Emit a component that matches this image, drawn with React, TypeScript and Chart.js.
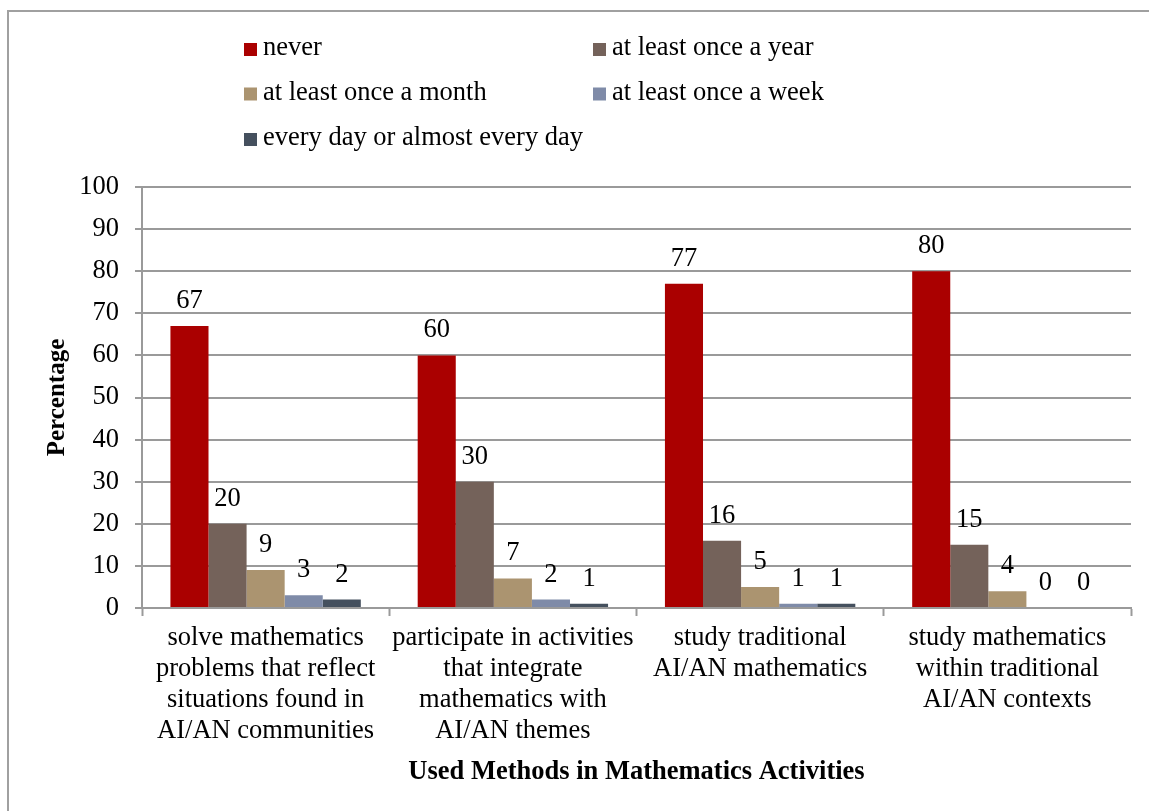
import React, { useEffect, useRef } from "react";
import { Chart, registerables } from "chart.js";

Chart.register(...registerables);

const FONT = "'Liberation Serif', 'Times New Roman', serif";

const categories: string[][] = [
  ["solve mathematics", "problems that reflect", "situations found in", "AI/AN communities"],
  ["participate in activities", "that integrate", "mathematics with", "AI/AN themes"],
  ["study traditional", "AI/AN mathematics"],
  ["study mathematics", "within traditional", "AI/AN contexts"],
];

const seriesNames = [
  "never",
  "at least once a year",
  "at least once a month",
  "at least once a week",
  "every day or almost every day",
];

const seriesColors = ["#AA0000", "#74625A", "#AB9470", "#7F8BA8", "#45505E"];

const never = [67, 60, 77, 80];
const onceYear = [20, 30, 16, 15];
const onceMonth = [9, 7, 5, 4];
const onceWeek = [3, 2, 1, 0];
const everyDay = [2, 1, 1, 0];

const yMin = 0;
const yMax = 100;
const yStep = 10;

const yTitle = "Percentage";
const xTitle = "Used Methods in Mathematics Activities";

const GRID = "#9a9a9a";
const FS = 26.5;

const framePlugin = {
  id: "frame",
  beforeDraw(chart: any) {
    const ctx = chart.ctx;
    ctx.save();
    ctx.fillStyle = "#ffffff";
    ctx.fillRect(0, 0, chart.width, chart.height);
    ctx.strokeStyle = "#a0a0a0";
    ctx.lineWidth = 2;
    ctx.beginPath();
    ctx.moveTo(8, chart.height + 5);
    ctx.lineTo(8, 11);
    ctx.lineTo(chart.width + 5, 11);
    ctx.stroke();
    ctx.restore();
  },
};

const legendPlugin = {
  id: "customLegend",
  afterDraw(chart: any) {
    const ctx = chart.ctx;
    const colX = [244, 593];
    const rowY = [49.5, 94, 139.5];
    ctx.save();
    ctx.font = `${FS}px ${FONT}`;
    ctx.textBaseline = "middle";
    ctx.textAlign = "left";
    chart.data.datasets.forEach((ds: any, i: number) => {
      const col = i % 2;
      const row = Math.floor(i / 2);
      const x = colX[col];
      const y = rowY[row];
      ctx.fillStyle = ds.backgroundColor;
      ctx.fillRect(x, y - 6.5, 13, 13);
      ctx.fillStyle = "#000000";
      ctx.fillText(ds.label, x + 19, y - 1);
    });
    ctx.restore();
  },
};

const valueLabelPlugin = {
  id: "valueLabels",
  afterDatasetsDraw(chart: any) {
    const ctx = chart.ctx;
    ctx.save();
    ctx.font = `${FS}px ${FONT}`;
    ctx.fillStyle = "#000000";
    ctx.textAlign = "center";
    ctx.textBaseline = "middle";
    chart.data.datasets.forEach((ds: any, i: number) => {
      const meta = chart.getDatasetMeta(i);
      meta.data.forEach((el: any, j: number) => {
        ctx.fillText(String(ds.data[j]), el.x, el.y - 25);
      });
    });
    ctx.restore();
  },
};

export default function App() {
  const ref = useRef<HTMLCanvasElement | null>(null);

  useEffect(() => {
    if (!ref.current) return;
    const values = [never, onceYear, onceMonth, onceWeek, everyDay];
    const chart = new Chart(ref.current, {
      type: "bar",
      data: {
        labels: categories,
        datasets: seriesNames.map((name, i) => ({
          label: name,
          data: values[i],
          backgroundColor: seriesColors[i],
          borderWidth: 0,
          categoryPercentage: 0.77,
          barPercentage: 1.0,
        })),
      },
      options: {
        responsive: false,
        animation: false,
        devicePixelRatio: 1,
        layout: { padding: { top: 187, left: 37, right: 18, bottom: 19 } },
        plugins: {
          legend: { display: false },
          tooltip: { enabled: false },
          title: { display: false },
        },
        scales: {
          x: {
            type: "category",
            offset: true,
            grid: {
              offset: true,
              drawOnChartArea: false,
              drawTicks: true,
              tickLength: 8,
              tickColor: GRID,
              tickWidth: 2,
            },
            border: { display: true, color: GRID, width: 2 },
            ticks: {
              color: "#000000",
              font: { family: FONT, size: FS, lineHeight: 1.17 },
              padding: 7,
              maxRotation: 0,
              minRotation: 0,
              autoSkip: false,
            },
            title: {
              display: true,
              text: xTitle,
              color: "#000000",
              font: { family: FONT, size: FS, weight: "bold" },
              padding: { top: 4, bottom: 4 },
            },
            afterFit(scale: any) {
              scale.height = 184;
            },
          },
          y: {
            min: yMin,
            max: yMax,
            ticks: {
              stepSize: yStep,
              color: "#000000",
              font: { family: FONT, size: FS },
              padding: 16,
            },
            grid: {
              color: GRID,
              lineWidth: 2,
              drawTicks: true,
              tickLength: 7,
              tickColor: GRID,
            },
            border: { display: true, color: GRID, width: 2 },
            title: {
              display: true,
              text: yTitle,
              color: "#000000",
              font: { family: FONT, size: 25, weight: "bold" },
              padding: { top: 6, bottom: 4 },
            },
            afterFit(scale: any) {
              scale.width = 105;
            },
          },
        },
      },
      plugins: [framePlugin, legendPlugin, valueLabelPlugin],
    } as any);
    return () => chart.destroy();
  }, []);

  return (
    <div style={{ position: "fixed", left: 0, top: 0, width: 1149, height: 811 }}>
      <canvas ref={ref} width={1149} height={811} style={{ display: "block" }} />
    </div>
  );
}
